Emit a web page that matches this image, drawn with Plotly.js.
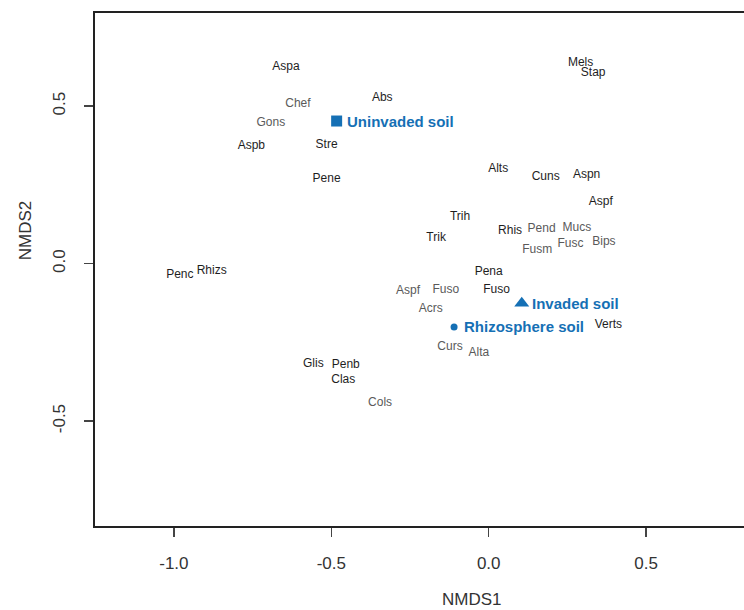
<!DOCTYPE html>
<html>
<head>
<meta charset="utf-8">
<script src="https://cdn.plot.ly/plotly-3.0.1.min.js"></script>
<style>
html,body{margin:0;padding:0;background:#fff;overflow:hidden;}
#chart{width:744px;height:610px;}
</style>
</head>
<body>
<div id="chart"></div>
<script>
// Taxa labels (NMDS scores)
const taxa = ["Aspa","Chef","Abs","Gons","Aspb","Stre","Pene","Mels","Stap","Alts","Cuns","Aspn","Aspf","Trih","Trik","Rhis","Pend","Mucs","Fusm","Fusc","Bips","Pena","Aspf","Fuso","Fuso","Acrs","Verts","Curs","Alta","Glis","Penb","Clas","Cols","Penc","Rhizs"];
const nmds1 = [-0.644,-0.606,-0.338,-0.692,-0.754,-0.515,-0.515,0.292,0.332,0.030,0.181,0.311,0.356,-0.091,-0.167,0.068,0.168,0.280,0.154,0.260,0.366,0.000,-0.256,-0.136,0.025,-0.184,0.380,-0.123,-0.031,-0.557,-0.454,-0.462,-0.345,-0.981,-0.880];
const nmds2 = [0.624,0.506,0.525,0.448,0.374,0.377,0.270,0.637,0.605,0.301,0.276,0.281,0.197,0.149,0.083,0.103,0.109,0.114,0.044,0.064,0.069,-0.026,-0.087,-0.084,-0.083,-0.144,-0.194,-0.264,-0.285,-0.319,-0.322,-0.369,-0.442,-0.037,-0.024];
// label shade: 1 = dark, 0 = grey
const dark = [1,0,1,0,1,1,1,1,1,1,1,1,1,1,1,1,0,0,0,0,0,1,0,0,1,0,1,0,0,1,1,1,0,1,1];

// Sample group centroids
const groups = ["Uninvaded soil","Invaded soil","Rhizosphere soil"];
const groupX = [-0.483,0.105,-0.110];
const groupY = [0.453,-0.126,-0.201];
const groupSymbols = ["square","triangle-up","circle"];
const groupSizes = [11,13,7];

const xTicks = [-1.0,-0.5,0.0,0.5];
const xTickText = ["-1.0","-0.5","0.0","0.5"];
const yTicks = [-0.5,0.0,0.5];
const yTickText = ["-0.5","0.0","0.5"];

const BLUE = "#1570b5";
const labelColors = dark.map(d => d ? "#1e1e1e" : "#5a5a5a");

const traces = [
  {
    type: "scatter", mode: "text",
    x: nmds1, y: nmds2, text: taxa,
    textposition: "middle center",
    textfont: {family: "Liberation Sans, Arial, sans-serif", size: 12, color: labelColors},
    hoverinfo: "text", showlegend: false, cliponaxis: false
  },
  {
    type: "scatter", mode: "markers",
    x: groupX, y: groupY, text: groups,
    marker: {symbol: groupSymbols, size: groupSizes, color: BLUE, opacity: 1, line: {width: 0}},
    hoverinfo: "text", showlegend: false
  }
];

const annotations = groups.map((g, i) => ({
  x: groupX[i], y: groupY[i], xref: "x", yref: "y",
  text: "<b>" + g + "</b>", showarrow: false,
  xanchor: "left", yanchor: "middle", xshift: 8,
  font: {family: "Liberation Sans, Arial, sans-serif", size: 15, color: BLUE}
}));
annotations.push({
  x: 0.581, y: -0.144, xref: "paper", yref: "paper",
  text: "NMDS1", showarrow: false, xanchor: "center", yanchor: "middle",
  font: {family: "Liberation Sans, Arial, sans-serif", size: 17, color: "#333"}
});
annotations.push({
  x: -0.106, y: 0.577, xref: "paper", yref: "paper",
  text: "NMDS2", showarrow: false, xanchor: "center", yanchor: "middle", textangle: -90,
  font: {family: "Liberation Sans, Arial, sans-serif", size: 17, color: "#333"}
});

const layout = {
  width: 744, height: 610,
  margin: {l: 95, r: 0, t: 13, b: 84},
  paper_bgcolor: "#fff", plot_bgcolor: "#fff",
  xaxis: {
    range: [-1.2506, 0.811], showgrid: false, zeroline: false,
    showline: true, linecolor: "#222", linewidth: 2, mirror: true,
    tickmode: "array", tickvals: xTicks, ticktext: xTickText,
    ticks: "outside", ticklen: 9, tickwidth: 1.5, tickcolor: "#444",
    ticklabelstandoff: 12,
    tickfont: {family: "Liberation Sans, Arial, sans-serif", size: 17, color: "#333"}
  },
  yaxis: {
    range: [-0.833, 0.796], showgrid: false, zeroline: false,
    showline: true, linecolor: "#222", linewidth: 2, mirror: false,
    tickmode: "array", tickvals: yTicks, ticktext: yTickText,
    ticks: "outside", ticklen: 9, tickwidth: 1.5, tickcolor: "#444",
    tickangle: -90, ticklabelstandoff: 12,
    tickfont: {family: "Liberation Sans, Arial, sans-serif", size: 17, color: "#333"}
  },
  annotations: annotations,
  showlegend: false
};

Plotly.newPlot("chart", traces, layout, {staticPlot: true, displayModeBar: false});
</script>
</body>
</html>
